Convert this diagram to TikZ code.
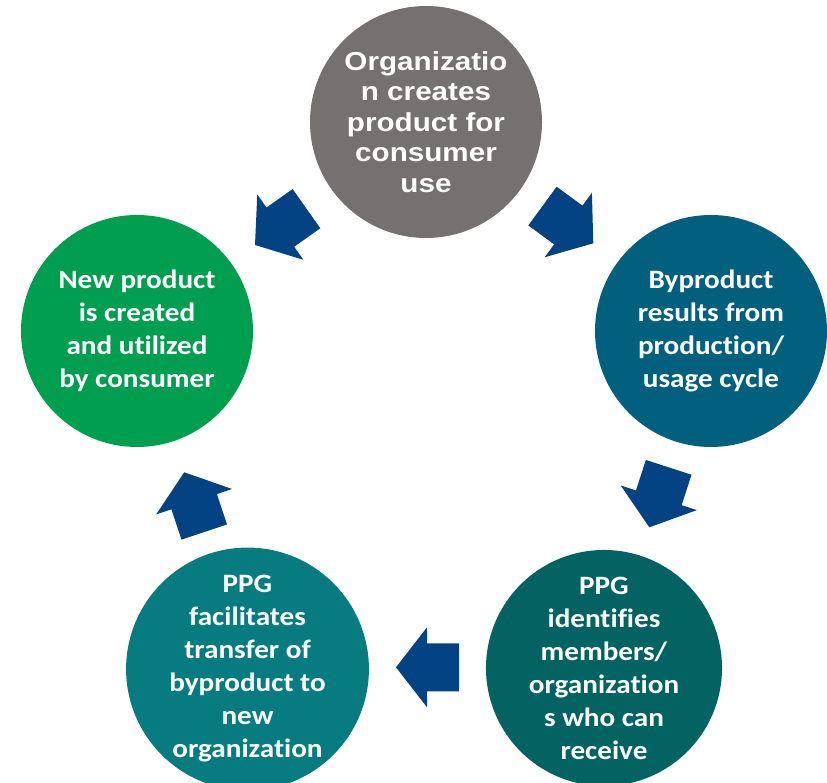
\documentclass[tikz,border=0pt]{standalone}
\usepackage{fontspec}
\setmainfont{Carlito}[Ligatures={NoCommon},FakeStretch=1.1]
\newfontfamily\arialfont{Liberation Sans}[FakeStretch=1.14]
\definecolor{arrowblue}{HTML}{034283}
\definecolor{cgray}{HTML}{767171}
\definecolor{cgreen}{HTML}{009E4F}
\definecolor{cblue}{HTML}{02607F}
\definecolor{cteal}{HTML}{067C80}
\definecolor{cdteal}{HTML}{036363}
\tikzset{
  stage/.style={circle, minimum size=232pt, inner sep=0pt, text=white, align=center, font=\fontsize{26.5}{33}\selectfont\bfseries},
  blockarrow/.pic={\fill[arrowblue] (0,0) -- (-31,40) -- (-31,24) -- (-63,24) -- (-63,-24) -- (-31,-24) -- (-31,-40) -- cycle;}
}
\begin{document}
\begin{tikzpicture}[x=1pt,y=1pt]
\useasboundingbox (0,0) rectangle (827,782);
\clip (0,0) rectangle (827,782);
\fill[white] (0,0) rectangle (827,782);
\node[stage, fill=cgray, font=\arialfont\fontsize{26}{30.5}\selectfont\bfseries] (org) at (426,660) {Organizatio\\n creates\\product for\\consumer\\use};
\node[stage, fill=cblue] (byp) at (711,451) {Byproduct\\results from\\production/\\usage cycle};
\node[stage, fill=cdteal] (ident) at (604,114) {PPG\\identifies\\members/\\organization\\s who can\\receive};
\node[stage, fill=cteal] (facil) at (247.5,113) {PPG\\facilitates\\transfer of\\byproduct to\\new\\organization};
\node[stage, fill=cgreen] (newp) at (137,451) {New product\\is created\\and utilized\\by consumer};
\path (593.3,538.7) pic[rotate=-36.2] {blockarrow};
\path (649.3,254.7) pic[rotate=252.1] {blockarrow};
\path (396,114.7) pic[rotate=180] {blockarrow};
\path (184.3,309.7) pic[rotate=108.5] {blockarrow};
\path (255,537) pic[rotate=215.2] {blockarrow};
\end{tikzpicture}
\end{document}
